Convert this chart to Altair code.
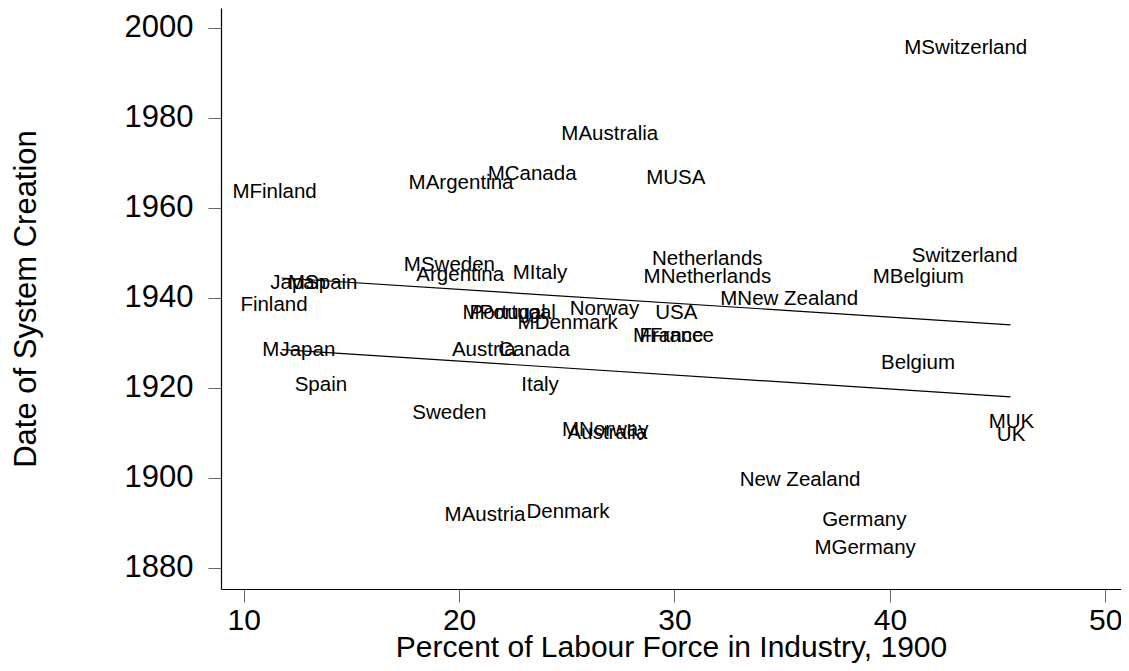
import altair as alt
import pandas as pd

countries = ["Argentina", "Australia", "Austria", "Belgium", "Canada", "Denmark",
             "Finland", "France", "Germany", "Italy", "Japan", "Netherlands",
             "New Zealand", "Norway", "Portugal", "Spain", "Sweden", "Switzerland",
             "UK", "USA"]

# plain-label series
ind_plain = [17.83, 24.85, 19.48, 39.40, 21.63, 22.94, 9.66, 28.19, 36.67, 22.70,
             11.05, 28.77, 32.84, 24.95, 20.30, 12.18, 17.64, 40.83, 44.78, 28.92]
date_plain = [1945.1, 1910.0, 1928.4, 1925.6, 1928.4, 1892.5, 1938.4, 1931.5, 1890.7, 1920.7,
              1943.4, 1948.6, 1899.6, 1937.5, 1936.6, 1920.7, 1914.4, 1949.4, 1909.5, 1936.6]

# "M"-label series
ind_m = [17.47, 24.56, 19.14, 39.02, 21.14, 22.53, 9.29, 27.89, 36.31, 22.30,
         10.68, 28.38, 31.94, 24.59, 19.97, 11.87, 17.25, 40.48, 44.40, 28.50]
date_m = [1965.6, 1976.5, 1891.8, 1944.6, 1967.5, 1934.4, 1963.6, 1931.5, 1884.4, 1945.5,
          1928.3, 1944.6, 1939.7, 1910.7, 1936.6, 1943.4, 1947.3, 1995.6, 1912.5, 1966.6]

# fitted lines (end points)
fit_x = [11.76, 45.60]
fit_m = [1944.4, 1934.0]
fit_plain = [1928.5, 1918.0]

x_ticks = [10, 20, 30, 40, 50]
y_ticks = [1880, 1900, 1920, 1940, 1960, 1980, 2000]

FONT = "Liberation Sans"

df_plain = pd.DataFrame({"x": ind_plain, "y": date_plain, "label": countries})
df_m = pd.DataFrame({"x": ind_m, "y": date_m, "label": ["M" + c for c in countries]})
df_fit = pd.DataFrame({
    "x": fit_x + fit_x,
    "y": fit_m + fit_plain,
    "series": ["M"] * 2 + ["plain"] * 2,
})

xscale = alt.Scale(domain=[8.946, 50.73], nice=False, zero=False)
yscale = alt.Scale(domain=[1875.3, 2004.4], nice=False, zero=False)

xaxis = alt.Axis(values=x_ticks, grid=False, title="Percent of Labour Force in Industry, 1900",
                 tickSize=13, labelPadding=3, labelFontSize=30, labelFlush=False,
                 titleFontSize=30, titleFontWeight="normal", titleY=67,
                 titleBaseline="alphabetic")
yaxis = alt.Axis(values=y_ticks, grid=False, title="Date of System Creation",
                 tickSize=13, labelPadding=15, labelFontSize=31, format="d",
                 titleFontSize=31, titleFontWeight="normal", titleX=-186,
                 titleY=290.5, titleBaseline="alphabetic", titleAngle=-90)

x_enc = alt.X("x:Q", scale=xscale, axis=xaxis)
y_enc = alt.Y("y:Q", scale=yscale, axis=yaxis)

fits = alt.Chart(df_fit).mark_line(color="black", strokeWidth=1.2).encode(
    x=x_enc, y=y_enc, detail="series:N")

txt_plain = alt.Chart(df_plain).mark_text(
    align="left", baseline="middle", dx=4, fontSize=20.5, font=FONT, color="black"
).encode(x="x:Q", y="y:Q", text="label:N")

txt_m = alt.Chart(df_m).mark_text(
    align="left", baseline="middle", dx=4, fontSize=20.5, font=FONT, color="black"
).encode(x="x:Q", y="y:Q", text="label:N")

chart = alt.layer(fits, txt_plain, txt_m).properties(
    width=900, height=581,
    autosize=alt.AutoSizeParams(type="none"),
    padding={"left": 213, "top": 0, "right": 0, "bottom": 74},
    background="white",
).configure(font=FONT).configure_view(stroke=None).configure_axis(
    domainColor="black", domainWidth=1.2, tickColor="#666666", tickWidth=1,
    labelColor="black", titleColor="black", labelFont=FONT, titleFont=FONT,
)

chart.save("out.html", embed_options={"renderer": "svg", "actions": False})
